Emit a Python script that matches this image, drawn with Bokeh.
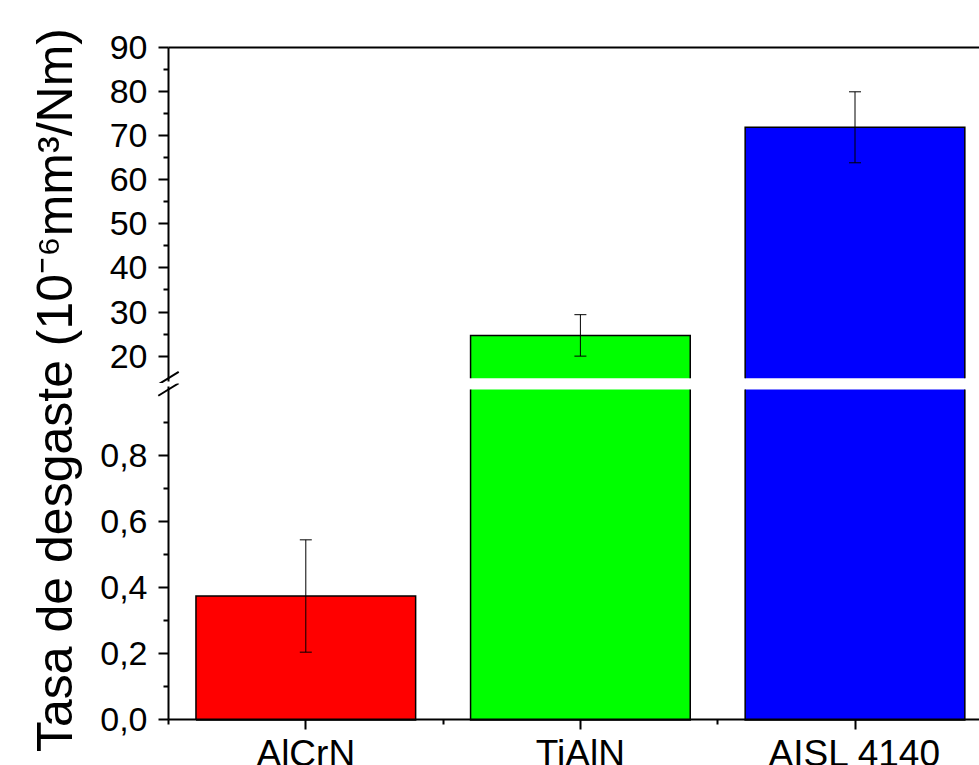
import math
from bokeh.plotting import figure
from bokeh.models import (Range1d, FixedTicker, LinearAxis, Whisker, TeeHead,
                          ColumnDataSource, CustomJSTickFormatter)
from bokeh.layouts import row, column
from bokeh.embed import file_html
from bokeh.resources import INLINE
from bokeh.core.properties import value

# ---------------- data ----------------
categories = ["AlCrN", "TiAlN", "AISL 4140"]
wear_rate = [0.375, 24.7, 71.9]
wear_err = [0.17, 4.7, 8.05]
bar_colors = ["#FF0000", "#00FF00", "#0000FF"]

lower_ticks = [0.0, 0.2, 0.4, 0.6, 0.8]
lower_minor = [0.1, 0.3, 0.5, 0.7, 0.9]
upper_ticks = [20, 30, 40, 50, 60, 70, 80, 90]
upper_minor = [25, 35, 45, 55, 65, 75, 85]
break_low = 1.0     # top of the lower axis segment
break_high = 15.0   # bottom of the upper axis segment
upper_top = 90.0
y_label = "Tasa de desgaste (10\u207b\u2076mm\u00b3/Nm)"

FONT = "Liberation Sans"
BAR_W = 0.8

# ---------------- layout constants (px) ----------------
LABEL_W = 88
MAIN_W = 891
AXIS_X = 80            # from main figure left to the y axis line
X_PX = 274.6           # px per category unit
UP_H = 383
UP_TOP = 47            # frame-top to the 90 line
LO_H = 382
Y_UP_PX = 4.409
Y_LO_PX = 330.4
GAP_LO = 6

xpos = [i + 1 for i in range(len(categories))]
x_start = 0.5 - AXIS_X / X_PX
x_end = x_start + MAIN_W / X_PX
xr = Range1d(x_start, x_end)

y_up_end = upper_top + UP_TOP / Y_UP_PX
y_up_start = y_up_end - UP_H / Y_UP_PX
y_lo_end = break_low + GAP_LO / Y_LO_PX
y_lo_start = y_lo_end - LO_H / Y_LO_PX

half = BAR_W / 2

# upper segment pieces
up_idx = [i for i, v in enumerate(wear_rate) if v > break_high]
src_up_bars = ColumnDataSource(dict(
    x=[xpos[i] for i in up_idx], top=[wear_rate[i] for i in up_idx],
    color=[bar_colors[i] for i in up_idx]))
up_xs = [[xpos[i] - half, xpos[i] - half, xpos[i] + half, xpos[i] + half] for i in up_idx]
up_ys = [[break_high, wear_rate[i], wear_rate[i], break_high] for i in up_idx]
w_up = [i for i in range(len(categories)) if wear_rate[i] - wear_err[i] >= break_high]
src_up_err = ColumnDataSource(dict(
    x=[xpos[i] for i in w_up],
    upper=[wear_rate[i] + wear_err[i] for i in w_up],
    lower=[wear_rate[i] - wear_err[i] for i in w_up]))

# lower segment pieces
src_lo_bars = ColumnDataSource(dict(
    x=xpos, top=[min(v, break_low) for v in wear_rate], color=bar_colors))
lo_xs, lo_ys = [], []
for i, v in enumerate(wear_rate):
    xl, xh = xpos[i] - half, xpos[i] + half
    if v <= break_low:
        lo_xs.append([xl, xl, xh, xh, xl])
        lo_ys.append([0, v, v, 0, 0])
    else:
        lo_xs.append([xl, xl, xh, xh])
        lo_ys.append([break_low, 0, 0, break_low])
w_lo = [i for i in range(len(categories)) if wear_rate[i] + wear_err[i] <= break_low]
src_lo_err = ColumnDataSource(dict(
    x=[xpos[i] for i in w_lo],
    upper=[wear_rate[i] + wear_err[i] for i in w_lo],
    lower=[wear_rate[i] - wear_err[i] for i in w_lo]))


def style_y(ax, ticks, minor, fmt_code, lo, hi):
    ax.ticker = FixedTicker(ticks=ticks, minor_ticks=minor)
    ax.formatter = CustomJSTickFormatter(code=fmt_code)
    ax.fixed_location = 0.5
    ax.bounds = (lo, hi)
    ax.axis_line_width = 2
    ax.major_tick_line_width = 2
    ax.minor_tick_line_width = 2
    ax.major_tick_out = 10
    ax.major_tick_in = 0
    ax.minor_tick_out = 5
    ax.minor_tick_in = 0
    ax.major_label_standoff = 11
    ax.major_label_text_font = FONT
    ax.major_label_text_font_size = "34px"
    ax.major_label_text_color = "black"


def add_bars(p, bar_bottom, bar_src, xs, ys, err_src):
    p.vbar(x="x", top="top", bottom=bar_bottom, width=BAR_W,
           fill_color="color", line_color=None, source=bar_src)
    p.multi_line(xs=xs, ys=ys, line_color="black", line_width=1.5,
                 line_join="miter")
    p.add_layout(Whisker(base="x", upper="upper", lower="lower", source=err_src,
                         line_color="black", line_width=1, level="annotation",
                         upper_head=TeeHead(size=12, line_color="black", line_width=1),
                         lower_head=TeeHead(size=12, line_color="black", line_width=1)))


def base_fig(h, yr, xloc):
    p = figure(width=MAIN_W, height=h, x_range=xr, y_range=yr,
               x_axis_location=xloc, y_axis_location="left",
               min_border_left=0, min_border_right=0,
               min_border_top=0, min_border_bottom=0,
               outline_line_color=None, toolbar_location=None,
               output_backend="svg")
    p.grid.visible = False
    return p


# ---------------- upper segment ----------------
up = base_fig(UP_H, Range1d(y_up_start, y_up_end), None)
add_bars(up, break_high, src_up_bars, up_xs, up_ys, src_up_err)
up.scatter(x=[0.5], y=[break_high], marker="dash", size=24, angle=0.55,
           line_color="black", line_width=2)
style_y(up.yaxis[0], upper_ticks, upper_minor, "return tick.toFixed(0);",
        break_high - 0.8, upper_top)
top_ax = LinearAxis(ticker=FixedTicker(ticks=[], minor_ticks=[]),
                    fixed_location=upper_top, bounds=(0.5, x_end),
                    axis_line_width=2, major_tick_out=0, major_tick_in=0,
                    minor_tick_out=0, minor_tick_in=0)
up.add_layout(top_ax, "above")

# ---------------- lower segment ----------------
lo = base_fig(LO_H, Range1d(y_lo_start, y_lo_end), "below")
add_bars(lo, 0, src_lo_bars, lo_xs, lo_ys, src_lo_err)
lo.scatter(x=[0.5], y=[break_low], marker="dash", size=24, angle=0.55,
           line_color="black", line_width=2)
style_y(lo.yaxis[0], lower_ticks, lower_minor,
        "return tick.toFixed(1).replace('.', ',');", 0, break_low + 0.009)

xa = lo.xaxis[0]
xa.ticker = FixedTicker(ticks=xpos, minor_ticks=[0.5, 1.5, 2.5, 3.5])
xa.formatter = CustomJSTickFormatter(args=dict(cats=categories),
                                     code="return cats[Math.round(tick) - 1];")
xa.fixed_location = 0
xa.bounds = (0.5, x_end)
xa.axis_line_width = 2
xa.major_tick_line_width = 2
xa.minor_tick_line_width = 2
xa.major_tick_out = 10
xa.major_tick_in = 0
xa.minor_tick_out = 5
xa.minor_tick_in = 0
xa.major_label_standoff = 3
xa.major_label_text_font = FONT
xa.major_label_text_font_size = "37px"
xa.major_label_text_color = "black"

# ---------------- y label ----------------
H_TOTAL = UP_H + LO_H
lab = figure(width=LABEL_W, height=H_TOTAL,
             x_range=Range1d(0, LABEL_W), y_range=Range1d(0, H_TOTAL),
             x_axis_location=None, y_axis_location=None,
             min_border=0, outline_line_color=None, toolbar_location=None,
             output_backend="svg")
lab.grid.visible = False
lab.text(x=[54.0], y=[H_TOTAL - 389.5], text=[y_label], angle=math.pi / 2,
         text_align="center", text_baseline="middle",
         text_font=value(FONT), text_font_size="50px", text_color="black")

layout = row(lab, column(up, lo))
open("out.html", "w").write(file_html(layout, INLINE))
